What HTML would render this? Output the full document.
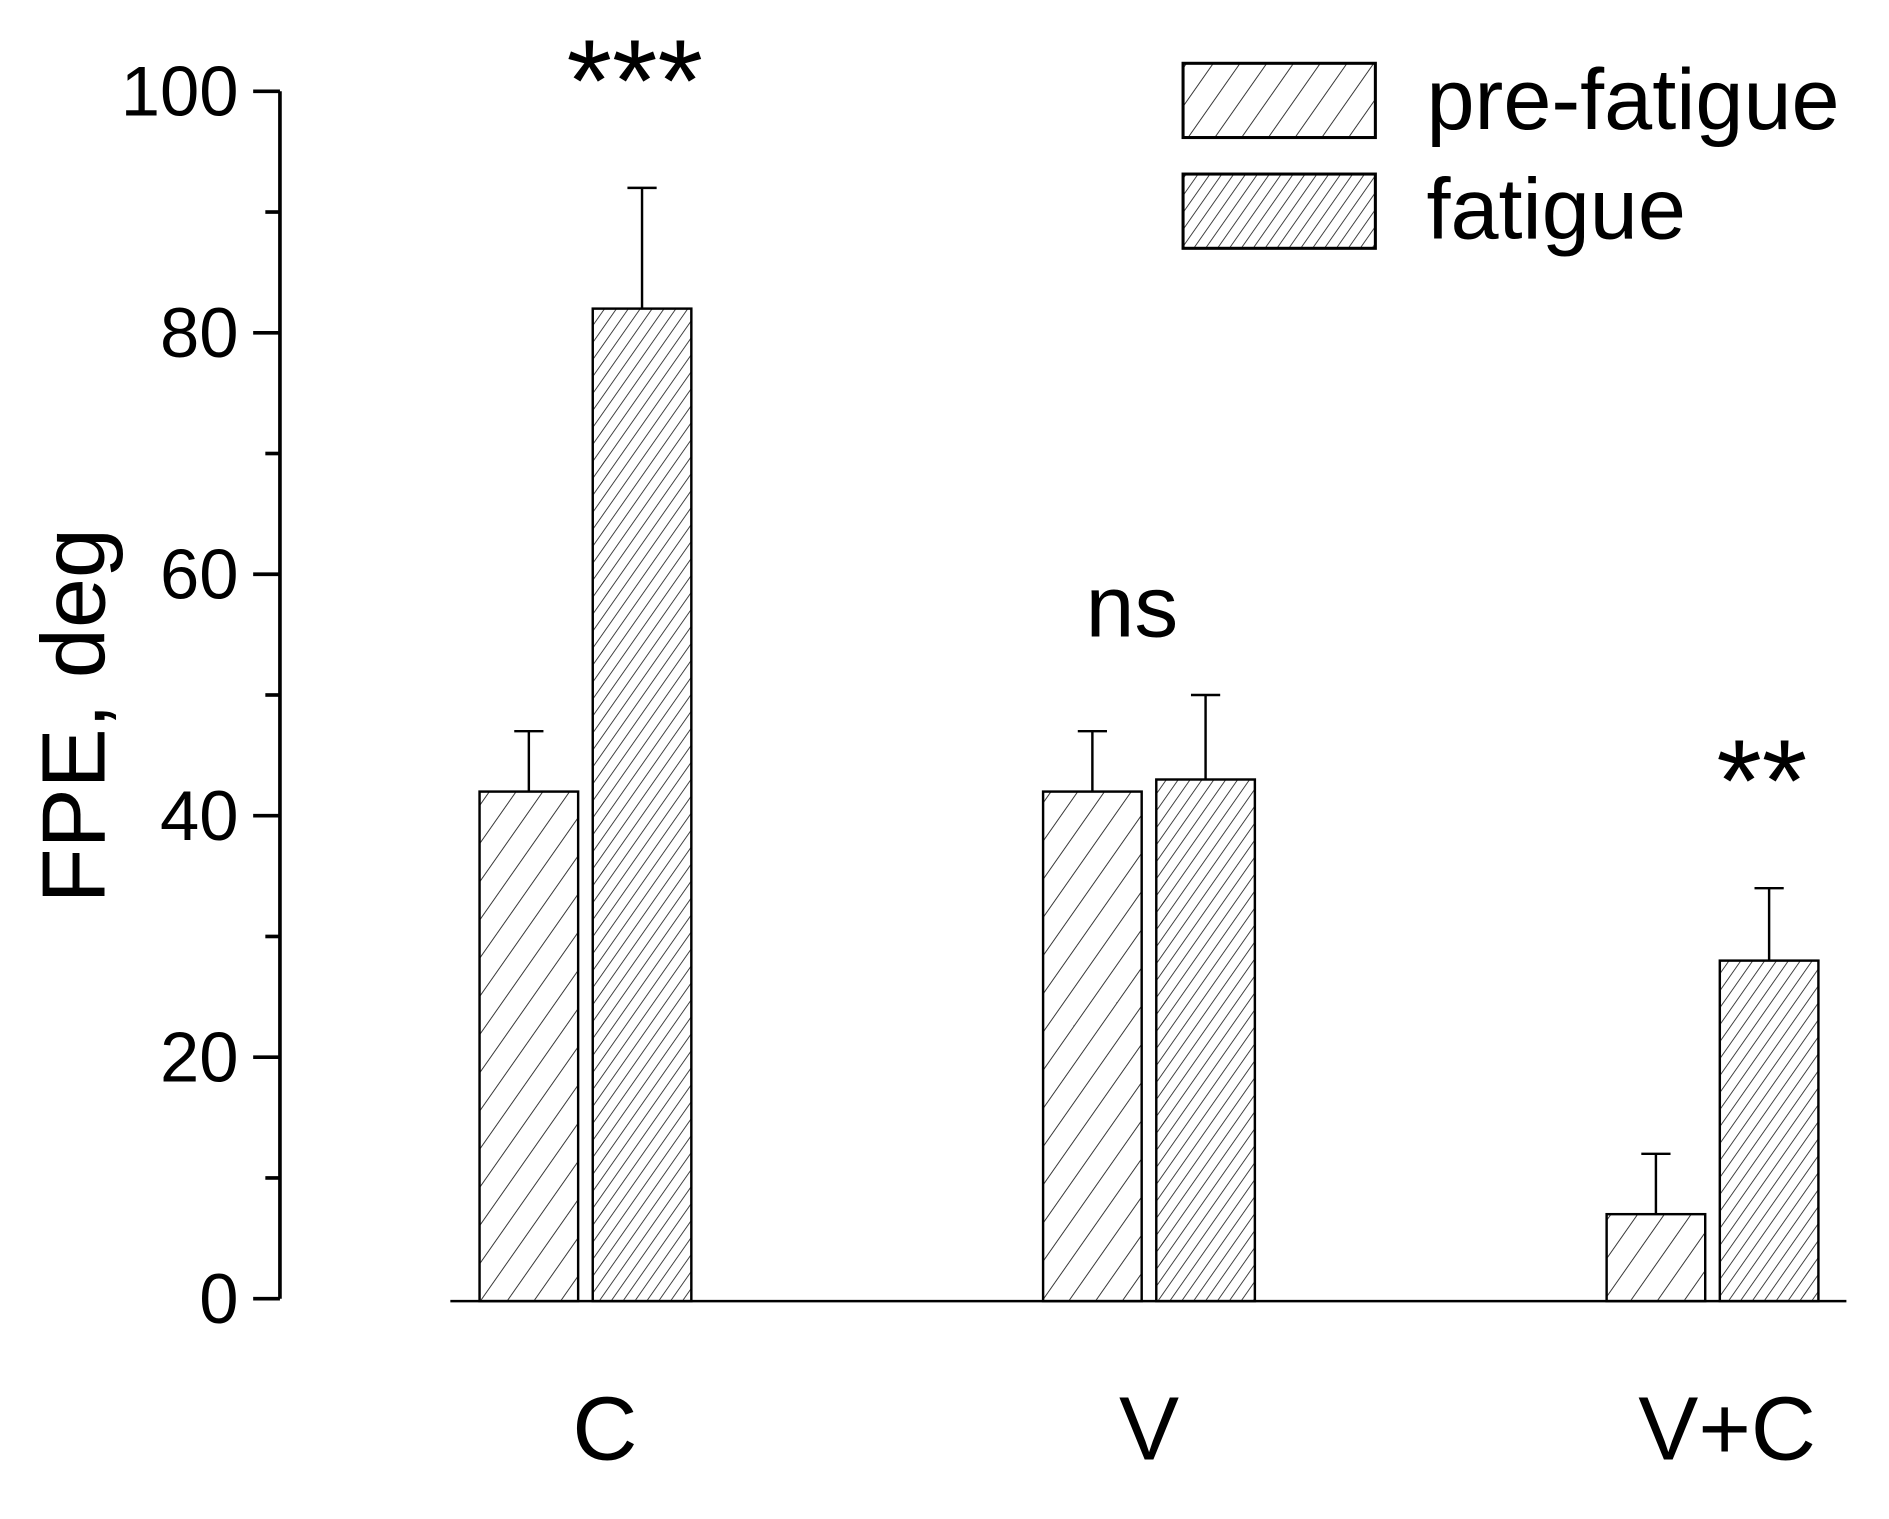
<!DOCTYPE html>
<html><head><meta charset="utf-8"><style>
html,body{margin:0;padding:0;background:#fff;}
svg{display:block;}
text{font-family:"Liberation Sans",Arial,sans-serif;fill:#000;}
</style></head><body>
<svg id="chart" width="1889" height="1519" viewBox="0 0 1552 1248" xmlns="http://www.w3.org/2000/svg">
<defs>
<pattern id="hatchSparse" patternUnits="userSpaceOnUse" width="18" height="18" patternTransform="rotate(35)">
<line x1="0" y1="0" x2="0" y2="18" stroke="#333" stroke-width="1.6"/>
</pattern>
<pattern id="hatchDense" patternUnits="userSpaceOnUse" width="8" height="8" patternTransform="rotate(35)">
<line x1="0" y1="0" x2="0" y2="8" stroke="#333" stroke-width="1.5"/>
</pattern>
</defs>
<g id="plot"></g>
<g id="legend">
<rect x="972" y="52" width="158" height="61" fill="url(#hatchSparse)" stroke="#000" stroke-width="2.5"/>
<text x="1172" y="106" font-size="71">pre-fatigue</text>
<rect x="972" y="143" width="158" height="61" fill="url(#hatchDense)" stroke="#000" stroke-width="2.5"/>
<text x="1172" y="196" font-size="71">fatigue</text>
</g>
</svg>
<script>
const categories = ["C", "V", "V+C"];
const preValues = [42, 42, 7];
const preErrors = [5, 5, 5];
const fatValues = [82, 43, 28];
const fatErrors = [10, 7, 6];
const sigLabels = ["***", "ns", "**"];
const yTicks = [0, 20, 40, 60, 80, 100];

const NS = "http://www.w3.org/2000/svg";
const plot = document.getElementById("plot");
const y0 = 1067, y100 = 75;
function yScale(v){ return y0 + (y100 - y0) * v / 100; }
const groupCenters = [481, 944, 1407];
const labelShift = [16, 0, 12];
function xCenter(i){ return groupCenters[i]; }
const barW = 81, gap = 12;

function mk(tag, attrs){
  const e = document.createElementNS(NS, tag);
  for (const k in attrs) e.setAttribute(k, attrs[k]);
  plot.appendChild(e);
  return e;
}

let ax = mk("line", {x1:230, y1:y100, x2:230, y2:y0, stroke:"#000", "stroke-width":3});


for (let v = 0; v <= 100; v += 10) {
  const major = v % 20 === 0;
  const t = mk("line", {x1: major ? 208 : 218, y1: yScale(v), x2: 230, y2: yScale(v), stroke:"#000", "stroke-width":3});
  
  
}
yTicks.forEach(v => {
  const t = mk("text", {x:196, y:yScale(v) + 20, "font-size":58, "text-anchor":"end"});
  t.textContent = String(v);
  
  
});
const yt = mk("text", {x:0, y:0, "font-size":74, "text-anchor":"middle", transform:"translate(86,588) rotate(-90)"});
yt.textContent = "FPE, deg";



const xa = mk("line", {x1:370, y1:1069, x2:1517, y2:1069, stroke:"#000", "stroke-width":2});



function bar(x, v, err, fill, name){
  const top = yScale(v);
  const etop = yScale(v + err);
  const cx = x + barW / 2;
  const el = mk("line", {x1:cx, y1:top, x2:cx, y2:etop, stroke:"#000", "stroke-width":2});
  
  
  const cap = mk("line", {x1:cx - 12, y1:etop, x2:cx + 12, y2:etop, stroke:"#000", "stroke-width":2});
  
  
  const r = mk("rect", {x:x, y:top, width:barW, height:y0 + 2 - top, fill:fill, stroke:"#000", "stroke-width":2});
  
  
}

categories.forEach((c, i) => {
  const cx = xCenter(i);
  bar(cx - gap / 2 - barW, preValues[i], preErrors[i], "url(#hatchSparse)", "bar-pre-" + c.toLowerCase().replace('+', '-'));
  bar(cx + gap / 2, fatValues[i], fatErrors[i], "url(#hatchDense)", "bar-fatigue-" + c.toLowerCase().replace('+', '-'));
  const lbl = mk("text", {x:cx + labelShift[i], y:1199, "font-size":74, "text-anchor":"middle"});
  lbl.textContent = c;
  
  
  const isStar = sigLabels[i].indexOf('*') >= 0;
  const etop = yScale(Math.max(preValues[i] + preErrors[i], fatValues[i] + fatErrors[i]));
  const sx = isStar ? cx + gap / 2 + barW / 2 - 6 : cx - 14;
  const s = mk("text", {x:sx, y:isStar ? etop - 55 : etop - 48, "font-size":isStar ? 96 : 72, "text-anchor":"middle"});
  s.textContent = sigLabels[i];
  
  
});
</script>
</body></html>
